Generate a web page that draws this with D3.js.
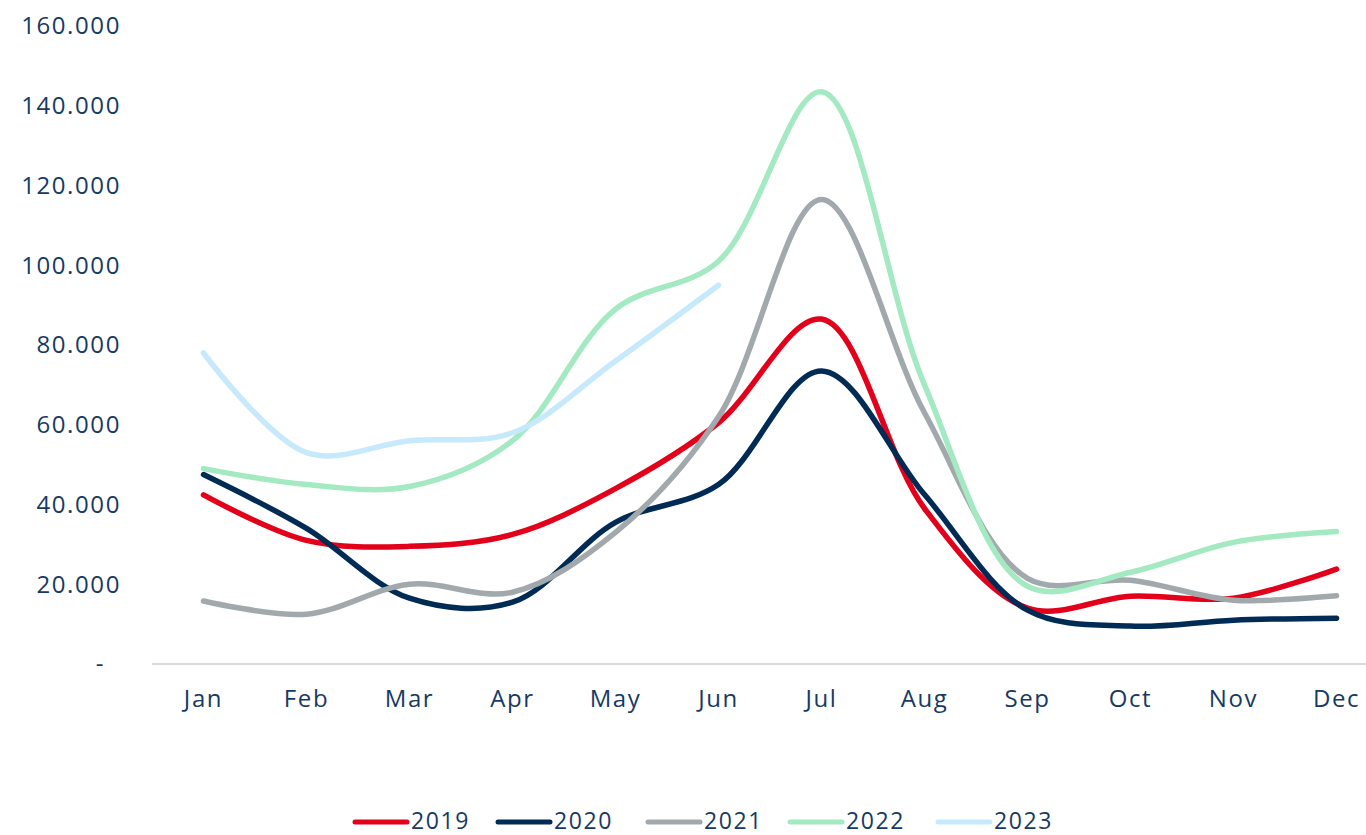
<!DOCTYPE html>
<html><head><meta charset="utf-8">
<script src="https://cdn.jsdelivr.net/npm/d3@7"></script>
<style>body{margin:0;background:#fff;} svg{display:block;} text{font-family:"Open Sans",sans-serif;fill:#163a64;letter-spacing:1.6px;}</style>
</head><body><svg id="c" width="1366" height="835"></svg>
<script>
const months = ["Jan","Feb","Mar","Apr","May","Jun","Jul","Aug","Sep","Oct","Nov","Dec"];
const yTicks = [0,20000,40000,60000,80000,100000,120000,140000,160000];
const s2019 = [42400,31000,29500,32500,44000,60500,86500,39000,14000,17000,16500,23800];
const s2020 = [47500,34000,16500,15500,35500,45000,73500,42500,13500,9500,11000,11500];
const s2021 = [15800,12500,20000,18000,33000,62000,116500,63000,21500,21000,16000,17100];
const s2022 = [49000,45000,44500,56000,89000,101000,143500,70000,19500,23000,30500,33200];
const s2023 = [78000,53000,56000,58000,76000,95000];
const seriesNames = ["2019","2020","2021","2022","2023"];
const seriesColors = ["#e3001b","#002b55","#a2a9ad","#a3e9c1","#c6e9fb"];
const seriesData = [s2019,s2020,s2021,s2022,s2023];

const svg = d3.select("#c");
const x = d3.scaleBand().domain(months).range([152,1388]);
const y = d3.scaleLinear().domain([0,160000]).range([664,26]);
const fmt = v => v===0 ? "-" : d3.format(",")(v).replace(/,/g,".");

svg.append("line").attr("x1",152).attr("x2",1366).attr("y1",y(0)).attr("y2",y(0))
  .attr("stroke","#d9d9d9").attr("stroke-width",2);

svg.selectAll(".yl").data(yTicks).join("text")
  .attr("x",d=> d===0 ? 105 : 121).attr("y",d=>y(d)).attr("dy","0.35em")
  .attr("text-anchor","end").attr("font-size",24).text(fmt);

svg.selectAll(".xl").data(months).join("text")
  .attr("x",d=>x(d)+x.bandwidth()/2).attr("y",699).attr("dy","0.35em")
  .attr("text-anchor","middle").attr("font-size",24).text(d=>d);

const line = d3.line().x((d,i)=>x(months[i])+x.bandwidth()/2).y(d=>y(d)).curve(d3.curveCatmullRom.alpha(0.5));
seriesData.forEach((s,k)=>{
  svg.append("path").attr("d",line(s)).attr("fill","none")
    .attr("stroke",seriesColors[k]).attr("stroke-width",5.5).attr("stroke-linecap","round");
});

const legX = [355,498,648,790,938];
seriesNames.forEach((n,k)=>{
  svg.append("line").attr("x1",legX[k]).attr("x2",legX[k]+52).attr("y1",822).attr("y2",822)
    .attr("stroke",seriesColors[k]).attr("stroke-width",5).attr("stroke-linecap","round");
  svg.append("text").attr("x",legX[k]+56).attr("y",821).attr("dy","0.35em").attr("font-size",23).text(n);
});
</script></body></html>
